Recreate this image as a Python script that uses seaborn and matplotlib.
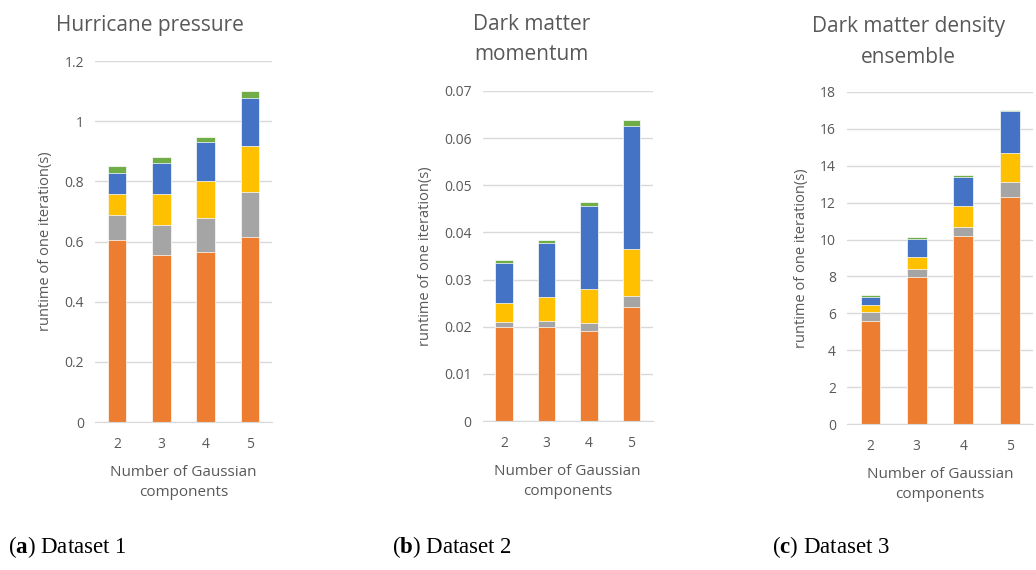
import pandas as pd
import matplotlib
matplotlib.use("Agg")
import matplotlib.pyplot as plt
import seaborn as sns

# ==========================
# DATA
# ==========================
components = ["2", "3", "4", "5"]

# Dataset 1 - Hurricane pressure (segment heights, bottom to top)
d1_orange = [0.605, 0.555, 0.565, 0.615]
d1_gray = [0.085, 0.100, 0.115, 0.150]
d1_yellow = [0.070, 0.102, 0.120, 0.152]
d1_blue = [0.067, 0.103, 0.130, 0.161]
d1_green = [0.023, 0.020, 0.018, 0.022]

# Dataset 2 - Dark matter momentum
d2_orange = [0.0199, 0.0199, 0.0191, 0.0242]
d2_gray = [0.0011, 0.0014, 0.0016, 0.0023]
d2_yellow = [0.0040, 0.0049, 0.0072, 0.0099]
d2_blue = [0.0086, 0.0116, 0.0177, 0.0261]
d2_green = [0.0005, 0.0006, 0.0008, 0.0014]

# Dataset 3 - Dark matter density ensemble
d3_orange = [5.60, 7.95, 10.20, 12.30]
d3_gray = [0.50, 0.45, 0.50, 0.80]
d3_yellow = [0.35, 0.65, 1.10, 1.60]
d3_blue = [0.45, 1.00, 1.60, 2.25]
d3_green = [0.10, 0.07, 0.10, 0.08]

d1_ticks = ["0", "0.2", "0.4", "0.6", "0.8", "1", "1.2"]
d2_ticks = ["0", "0.01", "0.02", "0.03", "0.04", "0.05", "0.06", "0.07"]
d3_ticks = ["0", "2", "4", "6", "8", "10", "12", "14", "16", "18"]

titles = ["Hurricane pressure", "Dark matter\nmomentum", "Dark matter density\nensemble"]
captions = ["a", "b", "c"]

colors = ["#ED7D31", "#A5A5A5", "#FFC000", "#4472C4", "#70AD47"]
text_grey = "#595959"

# ==========================
# STYLE
# ==========================
sns.set_style("white")
plt.rcParams["font.family"] = ["Open Sans", "DejaVu Sans"]
plt.rcParams["mathtext.fontset"] = "custom"
plt.rcParams["mathtext.rm"] = "Liberation Serif"
plt.rcParams["mathtext.bf"] = "Liberation Serif:bold"

fig = plt.figure(figsize=(10.36, 5.70), dpi=100)

panels = [
    ([d1_orange, d1_gray, d1_yellow, d1_blue, d1_green], d1_ticks,
     [0.0917, 0.2596, 0.171, 0.633]),
    ([d2_orange, d2_gray, d2_yellow, d2_blue, d2_green], d2_ticks,
     [0.466, 0.2614, 0.164, 0.579]),
    ([d3_orange, d3_gray, d3_yellow, d3_blue, d3_green], d3_ticks,
     [0.8176, 0.2561, 0.1795, 0.5825]),
]
caption_x = [0.008, 0.378, 0.745]
title_x = [0.145, 0.513, 0.877]
title_y = [0.974, 0.976, 0.972]

for i, (series, ticks, rect) in enumerate(panels):
    ax = fig.add_axes(rect)

    df = pd.DataFrame({"comp": components})
    total = [0.0] * len(components)
    cums = []
    for s in series:
        total = [t + v for t, v in zip(total, s)]
        cums.append(total)

    # draw from the top layer down so lower segments cover upper ones
    for cum, col in reversed(list(zip(cums, colors))):
        df["val"] = cum
        sns.barplot(
            x="comp",
            y="val",
            data=df,
            order=components,
            color=col,
            saturation=1,
            width=0.42,
            edgecolor="white",
            linewidth=0.5,
            ax=ax,
        )

    tick_vals = [float(t) for t in ticks]
    ax.set_ylim(0, tick_vals[-1])
    ax.set_yticks(tick_vals)
    ax.set_yticklabels(ticks)
    ax.set_xlim(-0.5, 3.5)
    ax.yaxis.grid(True, color="#D9D9D9", linewidth=1)
    ax.set_axisbelow(True)
    for sp in ["top", "right", "left"]:
        ax.spines[sp].set_visible(False)
    ax.spines["bottom"].set_color("#D9D9D9")
    ax.tick_params(axis="both", length=0, labelsize=10, colors=text_grey, pad=8)
    ax.tick_params(axis="x", pad=11)

    fig.text(title_x[i], title_y[i], titles[i], fontsize=15, color=text_grey,
             ha="center", va="top", linespacing=1.6)
    ax.set_xlabel("Number of Gaussian\ncomponents", fontsize=11,
                  color=text_grey, labelpad=9, linespacing=1.45)
    ax.set_ylabel("runtime of one iteration(s)", fontsize=10.5,
                  color=text_grey, labelpad=8)

    fig.text(caption_x[i], 0.03, "(" + r"$\mathbf{" + captions[i] + "}$" + ") Dataset " + str(i + 1),
             fontsize=16.5, family="Liberation Serif", color="black")

plt.savefig("out.png", dpi=100)
plt.close()
